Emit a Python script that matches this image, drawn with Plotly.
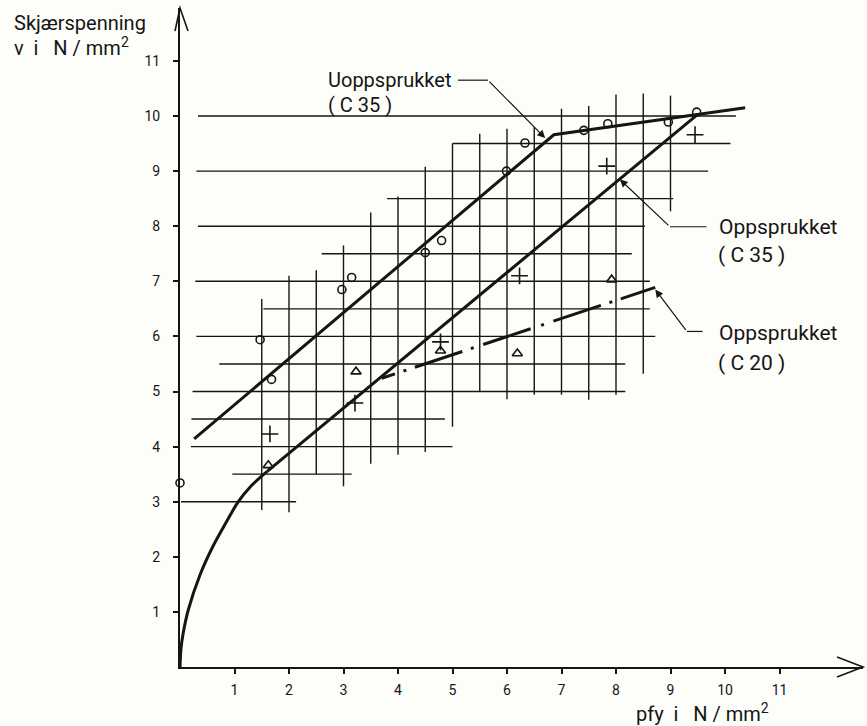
import plotly.graph_objects as go

# ---------------- data ----------------
x_ticks = list(range(1, 12))
y_ticks = list(range(1, 12))

# horizontal grid segments: level (v), start (u), end (u)
h_levels = [3, 3.5, 4, 4.5, 5, 5.5, 6, 6.5, 7, 7.5, 8, 8.5, 9, 9.5, 10]
h_start = [0.02, 0.96, 0.2, 0.21, 0.23, 0.72, 0.3, 1.53, 0.28, 2.6, 0.33, 3.8, 0.3, 5.0, 0.33]
h_end = [2.13, 3.15, 5.0, 4.86, 8.17, 8.17, 8.72, 8.62, 8.62, 8.29, 8.53, 9.05, 9.69, 10.1, 10.2]

# vertical grid segments: position (u), bottom (v), top (v)
v_levels = [1.5, 2, 2.5, 3, 3.5, 4, 4.5, 5, 5.5, 6, 6.5, 7, 7.5, 8, 8.5, 9]
v_bottom = [2.85, 2.81, 3.5, 3.28, 3.69, 3.85, 3.9, 4.36, 5.0, 4.86, 4.94, 4.94, 4.85, 4.94, 5.32, 8.27]
v_top = [6.68, 7.1, 7.2, 7.65, 8.25, 8.54, 9.08, 9.5, 9.68, 9.77, 9.8, 10.13, 10.18, 10.39, 10.41, 10.37]

# Uoppsprukket (C 35)
unc_x = [0.26, 6.86, 10.37]
unc_y = [4.14, 9.66, 10.15]

# Oppsprukket (C 35): curved lower part + straight part
cr_curve_x = [0.0, 0.02, 0.06, 0.15, 0.37, 0.61, 0.85, 1.07, 1.3, 1.6]
cr_curve_y = [0.0, 0.35, 0.62, 1.03, 1.68, 2.2, 2.63, 3.0, 3.28, 3.55]
cr_line_x = [1.6, 9.5]
cr_line_y = [3.55, 10.03]

# Oppsprukket (C 20)
c20_x = [3.7, 8.72]
c20_y = [5.24, 6.89]

# test points
circle_x = [0.0, 1.47, 1.68, 2.97, 3.15, 4.5, 4.8, 5.99, 6.33, 7.41, 7.85, 8.96, 9.48]
circle_y = [3.34, 5.94, 5.22, 6.85, 7.07, 7.52, 7.74, 9.0, 9.51, 9.74, 9.86, 9.89, 10.07]
plus_x = [1.65, 3.21, 4.78, 6.23, 7.83, 9.45]
plus_y = [4.23, 4.79, 5.9, 7.1, 9.09, 9.66]
tri_x = [1.62, 3.23, 4.78, 6.19, 7.92]
tri_y = [3.66, 5.36, 5.74, 5.69, 7.03]

# ---------------- figure ----------------
INK = "#151515"
BG = "#fdfdf9"
FONT = "Roboto, DejaVu Sans, sans-serif"

W, H = 867, 726
L, R, T, B = 180, 4, 8, 59
PW, PH = W - L - R, H - T - B
XPX, YPX = 54.5, 55.1


def pxx(px):
    return (px - L) / PW


def pxy(py):
    return (H - B - py) / PH


fig = go.Figure()

gx, gy = [], []
for lv, s, e in zip(h_levels, h_start, h_end):
    gx += [s, e, None]
    gy += [lv, lv, None]
for lv, b, t in zip(v_levels, v_bottom, v_top):
    gx += [lv, lv, None]
    gy += [b, t, None]
fig.add_trace(go.Scatter(x=gx, y=gy, mode="lines",
                         line=dict(color=INK, width=1.4), hoverinfo="skip"))

fig.add_trace(go.Scatter(x=unc_x, y=unc_y, mode="lines",
                         line=dict(color=INK, width=3)))
fig.add_trace(go.Scatter(x=cr_curve_x, y=cr_curve_y, mode="lines",
                         line=dict(color=INK, width=3, shape="spline", smoothing=1.0)))
fig.add_trace(go.Scatter(x=cr_line_x, y=cr_line_y, mode="lines",
                         line=dict(color=INK, width=3)))
fig.add_trace(go.Scatter(
    x=c20_x, y=c20_y, mode="lines",
    line=dict(color=INK, width=3,
              dash="14px,9px,3px,9px,50px,9px,3px,10px,50px,11px,3px,10px,50px,9px,3px,9px,60px")))

fig.add_trace(go.Scatter(x=circle_x, y=circle_y, mode="markers", cliponaxis=False,
                         marker=dict(symbol="circle-open", size=8, color=INK,
                                     line=dict(width=1.6, color=INK))))
fig.add_trace(go.Scatter(x=plus_x, y=plus_y, mode="markers", cliponaxis=False,
                         marker=dict(symbol="cross-thin-open", size=12, color=INK,
                                     line=dict(width=1.6, color=INK))))
fig.add_trace(go.Scatter(x=tri_x, y=tri_y, mode="markers", cliponaxis=False,
                         marker=dict(symbol="triangle-up-open", size=9, color=INK,
                                     line=dict(width=1.6, color=INK))))

shapes = []
# axis arrowheads (open V)
shapes.append(dict(type="path", xref="paper", yref="paper",
                   path=f"M {pxx(175)} {pxy(31)} L 0 1 L {pxx(188)} {pxy(31)}",
                   line=dict(color=INK, width=1.6)))
shapes.append(dict(type="path", xref="paper", yref="paper",
                   path=f"M {pxx(837)} {pxy(657)} L 1 0 L {pxx(837)} {pxy(677)}",
                   line=dict(color=INK, width=1.6)))
# leader horizontals
for (x0, x1, y0) in [(5.10, 5.65, 10.65), (8.99, 9.66, 7.99), (9.30, 9.59, 6.09)]:
    shapes.append(dict(type="line", xref="x", yref="y", x0=x0, x1=x1, y0=y0, y1=y0,
                       line=dict(color=INK, width=1.2)))

annotations = []
# leader diagonals with arrowheads
for (tx, ty, sx, sy) in [(6.70, 9.60, 5.65, 10.65), (8.07, 8.85, 8.99, 7.99), (8.72, 6.85, 9.30, 6.09)]:
    annotations.append(dict(x=tx, y=ty, ax=sx, ay=sy, xref="x", yref="y", axref="x", ayref="y",
                            text="", showarrow=True, arrowhead=2, arrowsize=1.3, arrowwidth=1.2,
                            arrowcolor=INK, standoff=0, startstandoff=0))


def label(text, px, py, size=21, anchor="left", yanchor="middle"):
    annotations.append(dict(text=text, x=pxx(px), y=pxy(py), xref="paper", yref="paper",
                            xanchor=anchor, yanchor=yanchor, showarrow=False,
                            font=dict(family=FONT, size=size, color=INK)))


NB = "\u00a0"
label("Skjærspenning", 12, 23, size=20)
label(f"v{NB}{NB}i{NB}{NB}{NB}N{NB}/{NB}mm<sup>2</sup>", 12, 47, size=20)
label(f"pfy{NB}{NB}i{NB}{NB}{NB}N{NB}/{NB}mm<sup>2</sup>", 634, 713, size=20)
label("Uoppsprukket", 326, 80, size=20)
label(f"({NB}C{NB}35{NB})", 326, 105, size=20)
label("Oppsprukket", 717, 227)
label(f"({NB}C{NB}35{NB})", 716, 255)
label("Oppsprukket", 717, 333)
label(f"({NB}C{NB}20{NB})", 716, 363)

fig.update_layout(
    width=W, height=H,
    margin=dict(l=L, r=R, t=T, b=B, pad=0),
    paper_bgcolor=BG, plot_bgcolor=BG,
    showlegend=False,
    shapes=shapes, annotations=annotations,
    font=dict(family=FONT, color=INK, size=14),
    xaxis=dict(range=[0, PW / XPX], tickvals=x_ticks, ticktext=[str(v) for v in x_ticks],
               showgrid=False, zeroline=False, showline=True, linecolor=INK, linewidth=2,
               ticks="outside", ticklen=5, tickwidth=1.5, tickcolor=INK,
               tickfont=dict(size=14, family=FONT, color=INK), ticklabelstandoff=4),
    yaxis=dict(range=[0, PH / YPX], tickvals=y_ticks, ticktext=[str(v) for v in y_ticks],
               showgrid=False, zeroline=False, showline=True, linecolor=INK, linewidth=2,
               ticks="outside", ticklen=5, tickwidth=1.5, tickcolor=INK,
               tickfont=dict(size=14, family=FONT, color=INK), ticklabelstandoff=10),
)

fig.write_html("out.html", config={"displayModeBar": False},
               post_script="document.body.style.margin='0px';document.body.style.background='%s';" % BG)
